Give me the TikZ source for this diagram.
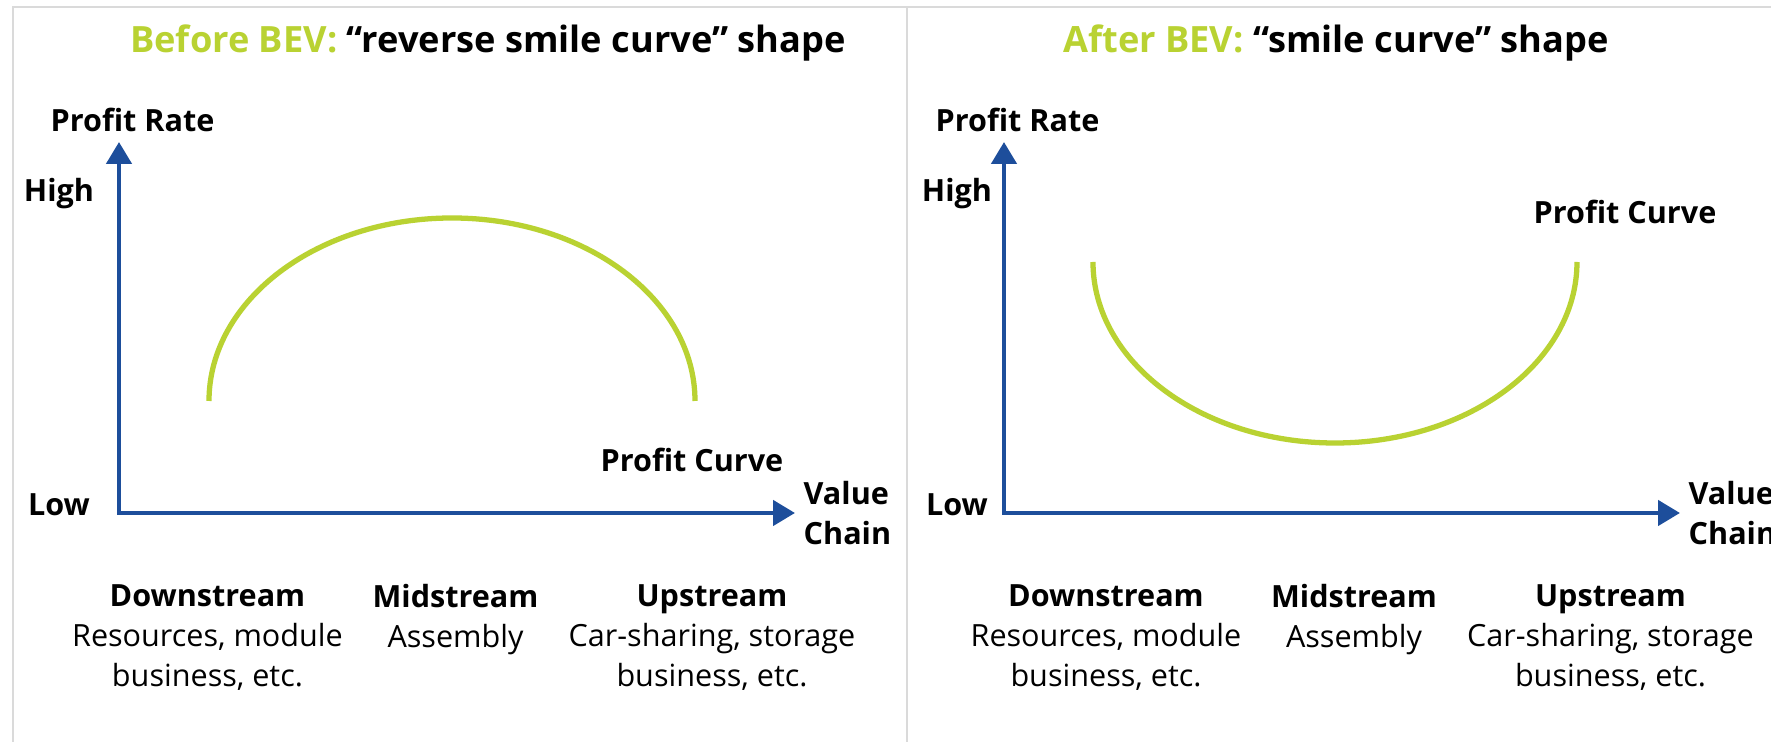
\documentclass[tikz,border=0pt]{standalone}
\usepackage{fontspec}
\setmainfont{Open Sans}
\usetikzlibrary{arrows.meta, positioning}
\definecolor{clime}{HTML}{B9D232}
\definecolor{cnavy}{HTML}{1D4E9B}
\definecolor{cframe}{HTML}{DADADA}
\tikzset{
  every picture/.style={font=\fontsize{8.7}{11.34}\selectfont},
  axis/.style={draw=cnavy, line width=1.3pt, {Triangle[length=2.2mm, width=2.5mm]}-{Triangle[length=2.2mm, width=2.5mm]}},
  curve/.style={draw=clime, line width=1.5pt},
  axlabel/.style={font=\fontsize{8.7}{11.34}\selectfont\bfseries, inner sep=0pt},
  stage/.style={align=center, anchor=north, inner sep=0pt},
  title/.style={font=\fontsize{10.3}{12}\selectfont\bfseries, inner sep=0pt},
  frame/.style={draw=cframe, line width=0.6pt},
}

\begin{document}
\begin{tikzpicture}
  \fill[white] (0,0) rectangle (17.71,7.42);
  \useasboundingbox (0,0) rectangle (17.71,7.42);
  % frame round the two panels
  \draw[frame] (0.13,0) -- (0.13,7.35) -- (17.71,7.35);
  \draw[frame] (9.07,0) -- (9.07,7.35);
  % axes and axis labels of both panels
  \foreach \dx/\dl/\p in {0/0/l, 8.85/8.98/r} {
    \coordinate (o\p) at (1.19+\dx, 2.29);
    \coordinate (y\p) at (1.19+\dx, 6.00);
    \coordinate (x\p) at (7.95+\dx, 2.29);
    \draw[axis] (y\p) -- (o\p) -- (x\p);
    \node[axlabel] (rate\p) at (1.325+\dx, 6.22) {Profit Rate};
    \node[axlabel] (high\p) at (0.59+\dl, 5.48) {High};
    \node[axlabel] (low\p) at (0.59+\dl, 2.37) {Low};
    \node[axlabel, align=left, anchor=north west] (chain\p) at (8.03+\dx, 2.61) {Value\\Chain};
  }
  % titles
  \node[title] (tl) at (4.88, 6.99) {\textcolor{clime}{Before BEV:} “reverse smile curve” shape};
  \node[title] (tr) at (13.36, 6.99) {\textcolor{clime}{After BEV:} “smile curve” shape};
  % profit curves
  \coordinate (cl) at (2.09, 3.41);
  \draw[curve] (cl) arc[start angle=180, end angle=0, x radius=2.43, y radius=1.83];
  \node[axlabel] (pcl) at (6.92, 2.82) {Profit Curve};
  \coordinate (cr) at (10.93, 4.80);
  \draw[curve] (cr) arc[start angle=180, end angle=360, x radius=2.42, y radius=1.81];
  \node[axlabel] (pcr) at (16.25, 5.30) {Profit Curve};
  % value chain stages
  \foreach \dx/\p in {0/l, 8.985/r} {
    \foreach \x/\h/\t [count=\k] in {2.075/Downstream/{Resources, module\\business, etc.},
        4.555/Midstream/{Assembly}, 7.12/Upstream/{Car-sharing, storage\\business, etc.}} {
      \node[stage] (s\p\k) at (\x+\dx, 1.58) {\textbf{\h}\\\t};
    }
  }
\end{tikzpicture}
\end{document}
